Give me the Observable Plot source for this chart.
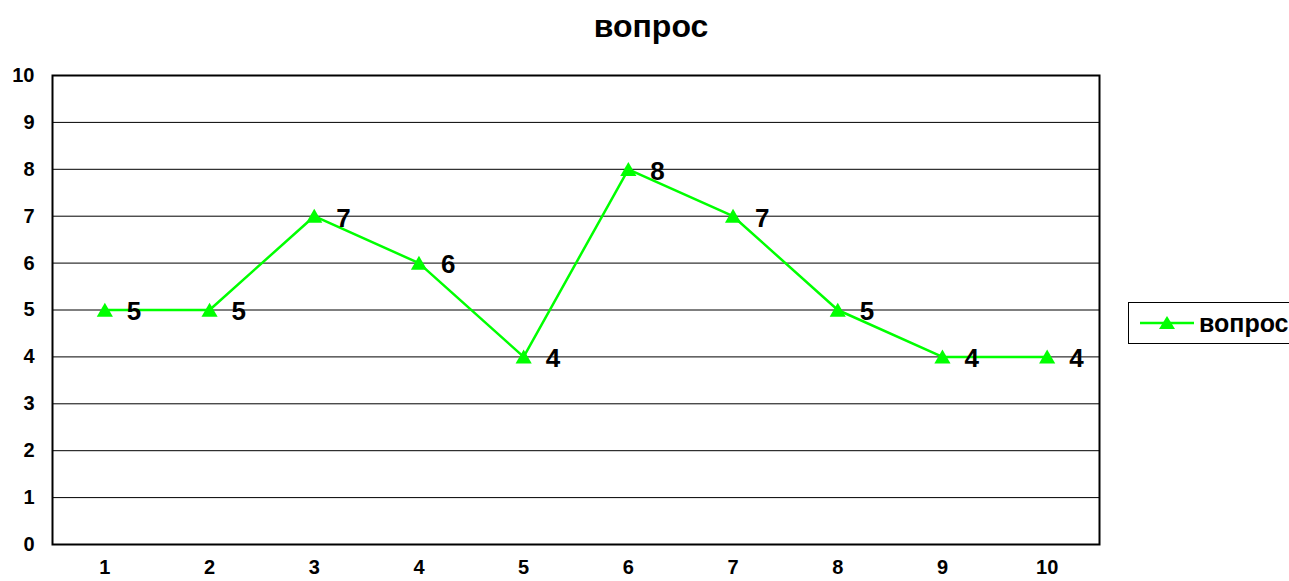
<!DOCTYPE html>
<html>
<head>
<meta charset="utf-8">
<script src="https://cdn.jsdelivr.net/npm/d3@7"></script>
<script src="https://cdn.jsdelivr.net/npm/@observablehq/plot@0.6"></script>
<style>
  html, body { margin: 0; padding: 0; background: #fff; overflow: hidden; }
  #wrap { position: relative; width: 1289px; height: 581px; overflow: hidden; font-family: "Liberation Sans", Arial, sans-serif; }
  #title { position: absolute; left: 551px; width: 200px; top: 8px; text-align: center; font-weight: bold; font-size: 32px; line-height: 36px; }
  #legend { position: absolute; left: 1128px; top: 302px; width: 175px; height: 42px; border: 1px solid #000; box-sizing: border-box; background: #fff; }
  #legend svg { position: absolute; left: 11px; top: 9px; }
  #legend span { position: absolute; left: 70px; top: 6px; font-weight: bold; font-size: 25px; line-height: 28px; }
</style>
</head>
<body>
<div id="wrap">
  <div id="title"></div>
  <div id="chart"></div>
  <div id="legend"><svg width="56" height="22"><line x1="0" y1="11" x2="54" y2="11" stroke="#00ff00" stroke-width="2.5"></line><path d="M27,4 L35,17 L19,17 Z" fill="#00ff00"></path></svg><span></span></div>
</div>
<script>
const title = "вопрос";
const seriesName = "вопрос";
const categories = [1, 2, 3, 4, 5, 6, 7, 8, 9, 10];
const values = [5, 5, 7, 6, 4, 8, 7, 5, 4, 4];
const yTicks = [0, 1, 2, 3, 4, 5, 6, 7, 8, 9, 10];
const gridValues = [1, 2, 3, 4, 5, 6, 7, 8, 9];

document.getElementById("title").textContent = title;
document.querySelector("#legend span").textContent = seriesName;

const data = categories.map((c, i) => ({cat: c, value: values[i]}));

const chart = Plot.plot({
  width: 1289,
  height: 581,
  marginLeft: 52,
  marginRight: 190,
  marginTop: 75,
  marginBottom: 37,
  style: {fontFamily: "Liberation Sans, Arial, sans-serif", background: "#fff", color: "#000"},
  x: {type: "point", domain: categories, padding: 0.5, round: false},
  y: {domain: [0, 10]},
  marks: [
    Plot.ruleY(gridValues, {stroke: "#000", strokeWidth: 1}),
    Plot.frame({stroke: "#000", strokeWidth: 2}),
    Plot.axisY(yTicks, {tickSize: 0, tickPadding: 18, fontSize: 20, fontWeight: "bold", label: null}),
    Plot.axisX(categories, {tickSize: 0, tickPadding: 15, fontSize: 20, fontWeight: "bold", label: null}),
    Plot.line(data, {x: "cat", y: "value", stroke: "#00ff00", strokeWidth: 2.5}),
    Plot.dot(data, {x: "cat", y: "value", symbol: "triangle", r: 6, dy: 2, fill: "#00ff00", stroke: "none"}),
    Plot.text(data, {x: "cat", y: "value", text: d => String(d.value), textAnchor: "start", dx: 22, dy: 2, fontSize: 26, fontWeight: "bold", fill: "#000"})
  ]
});
document.getElementById("chart").appendChild(chart);
</script>
</body>
</html>
